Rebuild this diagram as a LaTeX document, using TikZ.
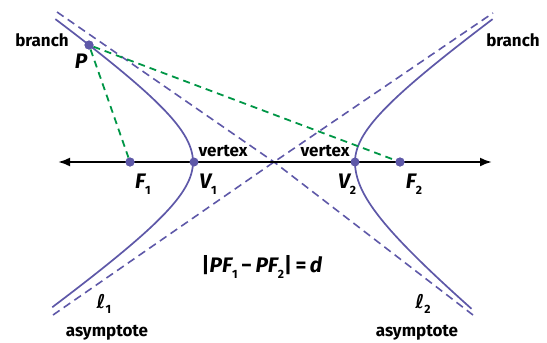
\documentclass[tikz,border=0pt]{standalone}
\usepackage{fontspec}
\setmainfont{Fira Sans}
\newfontfamily\ellfont{DejaVu Sans}
\usepackage{xcolor}
\usetikzlibrary{positioning,arrows.meta,calc}

\definecolor{hyppurple}{RGB}{94,88,168}
\definecolor{focgreen}{RGB}{0,150,70}
\newcommand{\lowidx}[1]{\raisebox{-0.5ex}{\fontsize{12}{12}\selectfont\upshape #1}}

\begin{document}
\begin{tikzpicture}[
  x=1pt, y=-1pt,
  font=\fontsize{17}{19}\selectfont\bfseries,
  branchline/.style={draw=hyppurple, line width=1.7pt},
  asym/.style={draw=hyppurple, line width=1.6pt, dash pattern=on 8pt off 5pt},
  focline/.style={draw=focgreen, line width=1.8pt, dash pattern=on 7pt off 5pt},
  axisline/.style={{Latex[length=12pt,width=9pt]}-{Latex[length=12pt,width=9pt]}, line width=2.2pt},
  dot/.style={circle, fill=hyppurple, inner sep=0pt, minimum size=9pt},
  lbl/.style={inner sep=0pt},
  letter/.style={lbl, font=\fontsize{21}{23}\selectfont\bfseries\itshape}
]
  \useasboundingbox (0,0) rectangle (547,343);
  \coordinate (O) at (274,162);
  \coordinate (xl) at (58,162);
  \coordinate (xr) at (492,162);
  % asymptotes
  \coordinate (l1a) at (53,315);
  \coordinate (l1b) at (493,13);
  \coordinate (l2a) at (57,12);
  \coordinate (l2b) at (473,315);
  \draw[asym] (l1a) -- (O) -- (l1b);
  \draw[asym] (l2a) -- (O) -- (l2b);
  % branches
  \draw[branchline] plot[domain=-1.665:1.65, samples=60, smooth]
    ({274-81*cosh(\x)}, {162-57*sinh(\x)});
  \draw[branchline] plot[domain=0:1.65, samples=40, smooth]
    ({274+81*cosh(\x)}, {162-57*sinh(\x)});
  \draw[branchline] plot[domain=0:1.54, samples=40, smooth]
    ({274+81*cosh(\x)}, {162+66*sinh(\x)});
  \draw[axisline] (xl) -- (xr);
  \node[dot] (P) at (89,45) {};
  \node[dot] (F1) at (130,162) {};
  \node[dot] (V1) at (194,162) {};
  \node[dot] (V2) at (355,162) {};
  \node[dot] (F2) at (400,162) {};
  \draw[focline] (P) -- (F1);
  \draw[focline] (P) -- (F2);
  \node[dot] at (P) {};
  \node[dot] at (F1) {};
  \node[dot] at (F2) {};
  % labels
  \node[lbl] (brl) at (42,40) {branch};
  \node[lbl] (brr) at (513,40) {branch};
  \node[letter] (Plbl) at (81,61) {P};
  \node[lbl] (vxl) at (223,151) {vertex};
  \node[lbl] (vxr) at (325,151) {vertex};
  \node[letter] (F1lbl) at (143,184) {F\lowidx{1}};
  \node[letter] (V1lbl) at (208,184) {V\lowidx{1}};
  \node[letter] (V2lbl) at (347,184) {V\lowidx{2}};
  \node[letter] (F2lbl) at (414,184) {F\lowidx{2}};
  \node[letter] (eqn) at (262,267) {\textup{|}PF\lowidx{1}\,\textup{−}\,PF\lowidx{2}\textup{|\,=\,}d};
  \node[letter] (ell1) at (104,304) {{\ellfont\fontsize{19}{21}\selectfont ℓ}\lowidx{1}};
  \node[letter] (ell2) at (423,304) {{\ellfont\fontsize{19}{21}\selectfont ℓ}\lowidx{2}};
  \node[lbl] (asl) at (107,333) {asymptote};
  \node[lbl] (asr) at (417,333) {asymptote};
\end{tikzpicture}
\end{document}
